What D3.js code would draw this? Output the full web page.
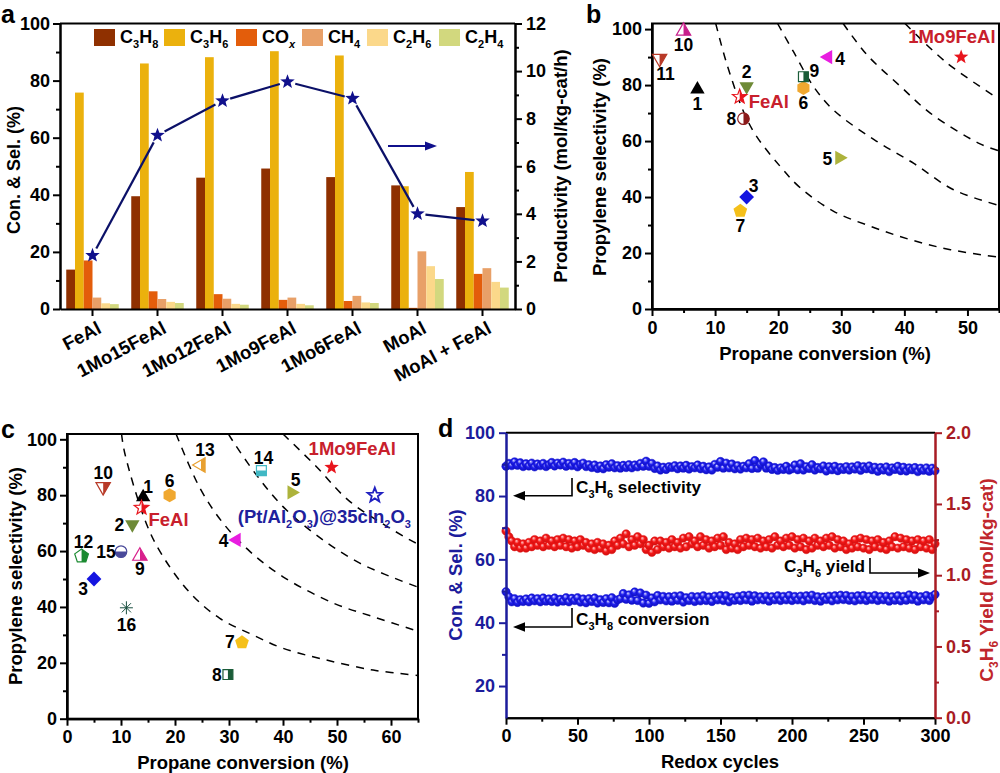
<!DOCTYPE html>
<html>
<head>
<meta charset="utf-8">
<script src="https://cdn.jsdelivr.net/npm/d3@7"></script>
<style>
body { margin: 0; background: #fff; }
text { font-family: "Liberation Sans", Arial, sans-serif; font-weight: bold; }
</style>
</head>
<body>
<div id="chart"></div>
<script>
// panel a
var catalysts = ['FeAl', '1Mo15FeAl', '1Mo12FeAl', '1Mo9FeAl', '1Mo6FeAl', 'MoAl', 'MoAl + FeAl'];
var gas_names = ['C_3H_8', 'C_3H_6', 'CO_x', 'CH_4', 'C_2H_6', 'C_2H_4'];
var gas_colors = ['#8f3000', '#ebb10d', '#e35d0b', '#e8a068', '#fbd88a', '#d2d87e'];
var c3h8_values = [13.8, 39.5, 46, 49.2, 46.2, 43.3, 35.7];
var c3h6_values = [75.8, 86, 88.2, 90.3, 88.8, 43, 48];
var cox_values = [17, 6.2, 5.2, 3.2, 2.8, 0.4, 12.3];
var ch4_values = [4, 3.5, 3.6, 4, 4.6, 20.2, 14.3];
var c2h6_values = [2, 2.5, 1.8, 1.8, 2.3, 15, 9.5];
var c2h4_values = [1.7, 2.1, 1.5, 1.3, 2.1, 10.5, 7.5];
var productivity = [2.25, 7.3, 8.75, 9.55, 8.85, 4.0, 3.7];

// panel b
var b_ids = ['1', '2', '3', '4', '5', '6', '7', '8', '9', '10', '11'];
var b_conv = [7.2, 15, 15, 27.9, 29.7, 24, 14, 14.5, 24, 5, 1.2];
var b_sel = [78.5, 79.5, 40, 90, 54, 79, 35, 68, 83, 99.3, 89.5];
var b_shapes = ['up', 'down', 'diamond', 'left', 'right', 'hexagon', 'pentagon', 'circle', 'square', 'up', 'down'];
var b_fills = ['full', 'full', 'full', 'full', 'full', 'full', 'full', 'right', 'right', 'right', 'right'];
var b_colors = ['#000000', '#6e8a36', '#1414e0', '#e81ee0', '#adb33c', '#f0a830', '#f5c01a', '#8b1a1a', '#1a5c38', '#c8208c', '#b83a28'];
var b_label_dx = [0, 0, 7, 12, -12, 0, 0, -12, 11, 0, 6];
var b_label_dy = [15, -14, -11, 2, 1, 15, 15, 0, -6, 14, 16];
var b_curve_conv = [
    [10.1, 11.8, 14.6, 16.6, 20.3, 23.5, 28.8, 34.7, 40.9, 47.3, 55],
    [19.9, 22.4, 25.6, 28.8, 35.2, 41.5, 47.8, 55],
    [30.3, 34, 39.4, 44.1, 52, 55],
    [40.1, 46.7, 55]
];
var b_curve_sel = [
    [102, 88, 70, 61.6, 51, 43.3, 34.9, 29.5, 24.8, 21.2, 18.5],
    [102, 92, 79.5, 71, 60.5, 52, 42.6, 37],
    [102, 91, 79.5, 70, 59, 56.5],
    [102, 88, 75]
];

// panel c
var c_ids = ['1', '2', '3', '4', '5', '6', '7', '8', '9', '10', '12', '13', '14', '15', '16'];
var c_conv = [14.1, 12.1, 5, 31.4, 41.6, 19, 32.4, 29.8, 13.5, 6.7, 2.7, 24.8, 36, 10, 11];
var c_sel = [79.3, 69.5, 50, 64, 81, 80, 27.3, 15.8, 58.2, 83, 58.2, 90.8, 88.8, 59.8, 39.7];
var c_shapes = ['up', 'down', 'diamond', 'left', 'right', 'hexagon', 'pentagon', 'square', 'up', 'down', 'pentagon', 'left', 'square', 'circle', 'asterisk'];
var c_fills = ['full', 'full', 'full', 'full', 'full', 'full', 'full', 'right', 'right', 'right', 'right', 'right', 'bottom', 'bottom', 'full'];
var c_colors = ['#000000', '#6e8a36', '#1414e0', '#e81ee0', '#adb33c', '#f0a830', '#f5c01a', '#1a5c38', '#d8208c', '#b83a28', '#1a8a30', '#e8a030', '#40b8c4', '#4a4a9a', '#1a5040'];
var c_label_dx = [5, -13, -11, -13, 4, 0, -12, -11, 0, 0, 2, 4, 2, -15, 0];
var c_label_dy = [-10, 0, 10, 1, -12, -14, 0, 0, 13, -14, -14, -15, -13, 0, 17];
var c_curve_conv = [
    [10.1, 10.7, 14.8, 17.8, 22.8, 28.3, 34.4, 40, 47.4, 56.7, 65],
    [20.2, 24.6, 28.9, 33.9, 40, 49.3, 56.7, 65],
    [29.9, 30.8, 35.1, 40, 46.2, 54.3, 65],
    [40, 46.2, 52.4, 63.5, 65]
];
var c_curve_sel = [
    [101.9, 95, 69.3, 58, 45, 35.9, 30, 25.2, 21.3, 17.4, 15.5],
    [101.9, 82.6, 70, 59.8, 50.8, 41.4, 36.5, 31.3],
    [101.9, 99.1, 87.2, 75.9, 65.7, 55.6, 47.1],
    [101.9, 90.2, 77.7, 64, 62.5]
];

// panel d, one reading every second cycle, ten per row
var d_selectivity = [
    89.4, 90.3, 89.6, 90.8, 89.7, 90.5, 89.3, 90.2, 89.5, 90.4,
    89.2, 90.1, 89.6, 90.3, 89.3, 89.9, 90.6, 89.5, 90.4, 89.8,
    90.7, 89.4, 90.3, 89.6, 90.6, 89.2, 90.0, 90.4, 89.3, 89.9,
    89.0, 89.8, 88.7, 89.5, 88.6, 89.9, 89.1, 90.2, 88.9, 89.6,
    88.8, 89.7, 89.0, 89.9, 88.9, 89.8, 89.2, 90.3, 89.4, 91.0,
    89.4, 90.3, 88.7, 89.5, 88.2, 89.1, 88.4, 89.3, 89.0, 89.6,
    88.6, 89.5, 88.8, 89.7, 88.5, 89.3, 88.9, 89.8, 88.6, 89.4,
    88.3, 89.2, 88.2, 90.0, 89.1, 90.9, 88.8, 90.4, 88.9, 90.1,
    88.6, 89.6, 88.5, 89.4, 88.9, 90.2, 88.7, 91.2, 88.8, 90.0,
    90.8, 88.8, 89.5, 88.4, 89.0, 88.1, 88.9, 88.4, 89.4, 88.2,
    88.6, 89.8, 88.3, 90.2, 88.2, 89.3, 88.7, 89.9, 88.2, 89.0,
    88.6, 89.5, 87.9, 89.3, 88.3, 89.4, 88.0, 89.0, 88.4, 89.3,
    88.2, 89.2, 88.5, 89.6, 88.1, 89.3, 88.6, 89.5, 88.3, 89.1,
    87.8, 89.0, 88.2, 89.2, 87.7, 88.9, 88.4, 89.4, 88.0, 89.1,
    87.9, 88.9, 88.3, 89.0, 87.7, 88.8, 88.1, 88.9, 87.8, 88.8,
    88.0
];
var d_yield = [
    1.31, 1.27, 1.24, 1.20, 1.23, 1.19, 1.22, 1.19, 1.23, 1.20,
    1.25, 1.21, 1.24, 1.20, 1.26, 1.21, 1.24, 1.20, 1.25, 1.21,
    1.26, 1.20, 1.25, 1.19, 1.24, 1.20, 1.25, 1.21, 1.23, 1.19,
    1.22, 1.18, 1.23, 1.19, 1.22, 1.17, 1.21, 1.18, 1.24, 1.21,
    1.26, 1.22, 1.29, 1.20, 1.25, 1.21, 1.27, 1.22, 1.25, 1.18,
    1.21, 1.16, 1.24, 1.18, 1.24, 1.20, 1.23, 1.19, 1.25, 1.20,
    1.23, 1.19, 1.26, 1.20, 1.27, 1.22, 1.24, 1.20, 1.27, 1.21,
    1.25, 1.19, 1.24, 1.20, 1.26, 1.21, 1.27, 1.18, 1.23, 1.19,
    1.22, 1.18, 1.25, 1.20, 1.26, 1.21, 1.25, 1.20, 1.26, 1.19,
    1.24, 1.20, 1.25, 1.19, 1.27, 1.21, 1.24, 1.20, 1.26, 1.21,
    1.27, 1.19, 1.25, 1.20, 1.26, 1.18, 1.24, 1.19, 1.26, 1.21,
    1.24, 1.20, 1.26, 1.21, 1.27, 1.19, 1.25, 1.20, 1.24, 1.18,
    1.22, 1.19, 1.25, 1.20, 1.26, 1.19, 1.25, 1.18, 1.24, 1.20,
    1.25, 1.19, 1.23, 1.18, 1.24, 1.20, 1.27, 1.19, 1.26, 1.20,
    1.25, 1.19, 1.24, 1.18, 1.25, 1.20, 1.24, 1.19, 1.25, 1.18,
    1.22
];
var d_conversion = [
    49.8, 48.2, 46.6, 47.6, 46.4, 47.3, 46.7, 47.5, 46.6, 47.8,
    46.9, 47.6, 46.6, 47.8, 46.8, 47.5, 46.7, 47.8, 46.5, 47.4,
    46.8, 47.9, 46.6, 47.7, 47.0, 47.9, 46.5, 47.5, 46.3, 47.6,
    46.7, 47.8, 46.2, 47.3, 46.4, 47.6, 46.3, 47.9, 46.1, 47.2,
    47.6, 49.2, 47.4, 48.8, 47.1, 49.7, 47.0, 49.4, 46.2, 48.7,
    46.1, 47.8, 46.6, 48.6, 47.2, 48.3, 46.9, 48.2, 46.8, 48.4,
    47.1, 48.5, 46.5, 47.9, 47.0, 48.3, 46.7, 48.2, 46.9, 48.5,
    47.0, 48.1, 46.7, 48.4, 47.2, 48.6, 47.0, 48.5, 46.6, 47.9,
    47.1, 48.3, 47.0, 48.6, 47.2, 48.7, 46.8, 48.5, 47.2, 48.2,
    47.2, 48.4, 46.8, 48.2, 47.2, 48.5, 47.0, 48.3, 47.2, 48.6,
    47.0, 48.3, 47.2, 48.4, 46.9, 48.5, 47.3, 48.7, 47.0, 48.2,
    46.8, 48.1, 47.3, 48.4, 46.9, 48.5, 47.2, 48.7, 47.3, 48.6,
    47.1, 48.3, 46.9, 48.5, 47.2, 48.6, 47.0, 48.3, 47.3, 48.6,
    47.0, 48.3, 47.2, 48.4, 46.8, 48.2, 47.1, 48.5, 46.9, 48.3,
    47.1, 48.8, 47.3, 48.5, 46.8, 48.2, 47.2, 48.6, 47.0, 48.3,
    48.9
];

var svg = d3.select('#chart')
    .append('svg')
    .attr('width', 1000)
    .attr('height', 773);

var defs = svg.append('defs');
defs.append('clipPath').attr('id', 'half-right')
    .append('rect').attr('x', 0).attr('y', -12).attr('width', 12).attr('height', 24);
defs.append('clipPath').attr('id', 'half-bottom')
    .append('rect').attr('x', -12).attr('y', 0).attr('width', 24).attr('height', 12);

add_sphere_gradient('ball-blue', '#dcdcff', '#2020ee', '#0c0cb8');
add_sphere_gradient('ball-red', '#ffd0d0', '#f41818', '#c80e0e');

function add_sphere_gradient (id, light, mid, dark) {
    var g = defs.append('radialGradient')
        .attr('id', id)
        .attr('cx', '50%').attr('cy', '50%').attr('r', '55%')
        .attr('fx', '36%').attr('fy', '30%');
    g.append('stop').attr('offset', '0%').attr('stop-color', light);
    g.append('stop').attr('offset', '45%').attr('stop-color', mid);
    g.append('stop').attr('offset', '100%').attr('stop-color', dark);
}

// writes "C_3H_6 yield" as text with real subscripts
function rich_text (sel, str, size) {
    var parts = str.split(/_(.)/);
    var sub_size = Math.round(size * 0.62);
    var was_sub = false;
    parts.forEach(function (part, i) {
        if (part === '') { return; }
        var is_sub = i % 2 === 1;
        var t = sel.append('tspan').text(part);
        if (is_sub) {
            t.attr('dy', 5).attr('font-size', sub_size);
            if (part === 'x') { t.attr('font-style', 'italic'); }
        } else {
            t.attr('font-size', size);
            if (was_sub) { t.attr('dy', -5); }
        }
        was_sub = is_sub;
    });
}

function add_text (parent, str, x, y, size, color, anchor, rotate) {
    var t = parent.append('text')
        .attr('fill', color || '#000')
        .attr('text-anchor', anchor || 'start')
        .attr('transform', 'translate(' + x + ',' + y + ')' + (rotate ? ' rotate(' + rotate + ')' : ''));
    rich_text(t, str, size);
    return t;
}

function add_axis (axis_fn, scale, y_or_x, major, minor, opts) {
    var is_horizontal = opts.horizontal;
    var translate = is_horizontal ? 'translate(0,' + y_or_x + ')' : 'translate(' + y_or_x + ',0)';
    var color = opts.color || '#000';

    svg.append('g')
        .attr('transform', translate)
        .call(axis_fn(scale).tickValues(minor).tickSize(4).tickFormat('').tickSizeOuter(0))
        .call(style_axis, color);

    var major_axis = svg.append('g')
        .attr('transform', translate)
        .call(axis_fn(scale).tickValues(major).tickSize(7).tickPadding(opts.padding || 3).tickSizeOuter(0)
            .tickFormat(opts.format || function (d) { return d; }))
        .call(style_axis, color);

    major_axis.selectAll('text')
        .attr('font-size', 18)
        .attr('font-family', '"Liberation Sans", Arial, sans-serif')
        .attr('fill', color);
    return major_axis;
}

function style_axis (sel, color) {
    sel.selectAll('.domain').attr('stroke', color).attr('stroke-width', 2);
    sel.selectAll('.tick line').attr('stroke', color).attr('stroke-width', 2);
}

var radial_line = d3.lineRadial().curve(d3.curveLinearClosed);

function polygon_path (n, radius, rotation) {
    return radial_line(d3.range(n).map(function (i) {
        return [rotation + i * 2 * Math.PI / n, radius];
    }));
}

function star_path (outer, inner) {
    return radial_line(d3.range(10).map(function (i) {
        return [i * Math.PI / 5, i % 2 ? inner : outer];
    }));
}

function shape_path (name) {
    var deg = Math.PI / 180;
    if (name === 'up') { return polygon_path(3, 8.3, 0); }
    if (name === 'down') { return polygon_path(3, 8.3, 180 * deg); }
    if (name === 'left') { return polygon_path(3, 8.3, -90 * deg); }
    if (name === 'right') { return polygon_path(3, 8.3, 90 * deg); }
    if (name === 'diamond') { return polygon_path(4, 7.4, 0); }
    if (name === 'square') { return polygon_path(4, 7, 45 * deg); }
    if (name === 'pentagon') { return polygon_path(5, 7.2, 0); }
    if (name === 'hexagon') { return polygon_path(6, 7, 0); }
    if (name === 'circle') { return d3.symbol(d3.symbolCircle, 105)(); }
    if (name === 'star') { return star_path(7.6, 3.2); }
    return null;
}

function draw_marker (parent, x, y, shape, fill, color) {
    var g = parent.append('g').attr('transform', 'translate(' + x + ',' + y + ')');
    if (shape === 'asterisk') {
        d3.range(4).forEach(function (i) {
            var a = i * Math.PI / 4;
            g.append('line')
                .attr('x1', -6.5 * Math.sin(a)).attr('y1', -6.5 * Math.cos(a))
                .attr('x2', 6.5 * Math.sin(a)).attr('y2', 6.5 * Math.cos(a))
                .attr('stroke', color).attr('stroke-width', 1);
        });
        return;
    }
    var d = shape_path(shape);
    if (fill === 'full') {
        g.append('path').attr('d', d).attr('fill', color);
        return;
    }
    g.append('path').attr('d', d).attr('fill', '#fff')
        .attr('stroke', color).attr('stroke-width', fill === 'open' ? 1.8 : 1.2);
    if (fill === 'right' || fill === 'bottom') {
        g.append('path').attr('d', d).attr('fill', color)
            .attr('clip-path', 'url(#half-' + fill + ')');
    }
}

function draw_panel_letters () {
    add_text(svg, 'a', 1, 22.7, 25);
    add_text(svg, 'b', 586, 22.7, 25);
    add_text(svg, 'c', 1, 438, 25);
    add_text(svg, 'd', 438, 437, 25);
}

function draw_panel_a () {
    var x = d3.scaleBand().domain(catalysts).range([60, 515]);
    var y = d3.scaleLinear().domain([0, 100]).range([309, 23.5]);
    var y_right = d3.scaleLinear().domain([0, 12]).range([309, 23.5]);
    var all_gases = [c3h8_values, c3h6_values, cox_values, ch4_values, c2h6_values, c2h4_values];
    var group_half = 26.25;
    var inner = d3.scaleBand().domain(d3.range(6)).range([-group_half, group_half]);

    var center = function (name) { return x(name) + x.bandwidth() / 2; };

    var groups = svg.append('g').selectAll('g')
        .data(all_gases)
        .enter()
        .append('g')
        .attr('fill', function (d, i) { return gas_colors[i]; });

    groups.selectAll('rect')
        .data(function (d, i) {
            return d.map(function (v, j) { return { gas: i, cat: catalysts[j], value: v }; });
        })
        .enter()
        .append('rect')
        .attr('x', function (d) { return center(d.cat) + inner(d.gas); })
        .attr('y', function (d) { return y(d.value); })
        .attr('width', inner.bandwidth())
        .attr('height', function (d) { return y(0) - y(d.value); });

    // frame top
    svg.append('line').attr('x1', 60).attr('x2', 515).attr('y1', 23.5).attr('y2', 23.5)
        .attr('stroke', '#000').attr('stroke-width', 2);

    add_axis(d3.axisLeft, y, 60, [0, 20, 40, 60, 80, 100], [10, 30, 50, 70, 90], {});
    add_axis(d3.axisRight, y_right, 515, [0, 2, 4, 6, 8, 10, 12], [1, 3, 5, 7, 9, 11], { padding: 4 });

    svg.append('g')
        .attr('transform', 'translate(0,309)')
        .call(d3.axisBottom(x).tickSize(7).tickSizeOuter(0).tickFormat(''))
        .call(style_axis, '#000');

    catalysts.forEach(function (name) {
        add_text(svg, name, center(name) + 10, 332, 18.5, '#000', 'end', -28);
    });

    // productivity line stops short of the stars
    var points = catalysts.map(function (name, i) {
        return [center(name), y_right(productivity[i])];
    });
    var gap = 8;
    svg.append('g').selectAll('line')
        .data(d3.pairs(points))
        .enter()
        .append('line')
        .attr('x1', function (d) { return d[0][0] + trim(d)[0]; })
        .attr('y1', function (d) { return d[0][1] + trim(d)[1]; })
        .attr('x2', function (d) { return d[1][0] - trim(d)[0]; })
        .attr('y2', function (d) { return d[1][1] - trim(d)[1]; })
        .attr('stroke', '#0b1068')
        .attr('stroke-width', 2.2);

    function trim (d) {
        var dx = d[1][0] - d[0][0];
        var dy = d[1][1] - d[0][1];
        var len = Math.sqrt(dx * dx + dy * dy);
        return [dx / len * gap, dy / len * gap];
    }

    points.forEach(function (p) {
        draw_marker(svg, p[0], p[1], 'star', 'full', '#10108c');
    });

    // arrow pointing at the right axis
    svg.append('line').attr('x1', 388).attr('x2', 428).attr('y1', 146).attr('y2', 146)
        .attr('stroke', '#10108c').attr('stroke-width', 2);
    svg.append('path').attr('d', 'M425,141.5L437,146L425,150.5Z').attr('fill', '#10108c');

    // legend
    var legend_x = [94, 164, 236, 302, 367, 439];
    gas_names.forEach(function (name, i) {
        svg.append('rect')
            .attr('x', legend_x[i]).attr('y', 29)
            .attr('width', 21).attr('height', 17)
            .attr('fill', gas_colors[i]);
        add_text(svg, name, legend_x[i] + 26, 43, 18);
    });

    add_text(svg, 'Con. & Sel. (%)', 20, 170, 18, '#000', 'middle', -90);
    add_text(svg, 'Productivity (mol/kg-cat/h)', 567, 166, 18.5, '#000', 'middle', -90);
}

function draw_scatter (opts) {
    var x = opts.x;
    var y = opts.y;
    var x0 = x.range()[0], x1 = x.range()[1];
    var y0 = y.range()[0], y1 = y.range()[1];
    var clip_id = 'clip-' + opts.name;

    defs.append('clipPath').attr('id', clip_id)
        .append('rect').attr('x', x0).attr('y', y1)
        .attr('width', x1 - x0).attr('height', y0 - y1);

    var curve_line = d3.line()
        .x(function (d) { return x(d[0]); })
        .y(function (d) { return y(d[1]); })
        .curve(d3.curveCatmullRom);

    svg.append('g')
        .attr('clip-path', 'url(#' + clip_id + ')')
        .selectAll('path')
        .data(opts.curve_conv.map(function (c, i) { return d3.zip(c, opts.curve_sel[i]); }))
        .enter()
        .append('path')
        .attr('d', curve_line)
        .attr('fill', 'none')
        .attr('stroke', '#000')
        .attr('stroke-width', 1.5)
        .attr('stroke-dasharray', '8,7');

    svg.append('rect')
        .attr('x', x0).attr('y', y1)
        .attr('width', x1 - x0).attr('height', y0 - y1)
        .attr('fill', 'none')
        .attr('stroke', '#000')
        .attr('stroke-width', 2);

    add_axis(d3.axisLeft, y, x0, [0, 20, 40, 60, 80, 100], [10, 30, 50, 70, 90], {});
    add_axis(d3.axisBottom, x, y0, opts.x_major, opts.x_minor, { horizontal: true, padding: 5 });

    opts.ids.forEach(function (id, i) {
        var px = x(opts.conv[i]);
        var py = y(opts.sel[i]);
        draw_marker(svg, px, py, opts.shapes[i], opts.fills[i], opts.colors[i]);
        add_text(svg, id, px + opts.label_dx[i], py + opts.label_dy[i] + 6, 17.5, '#000', 'middle');
    });

    opts.named.forEach(function (n) {
        var px = x(n.conv);
        var py = y(n.sel);
        draw_marker(svg, px, py, 'star', n.fill, n.color);
        add_text(svg, n.label, px + n.dx, py + n.dy, 18.5, n.text_color);
    });
}

function draw_panel_b () {
    var x = d3.scaleLinear().domain([0, 55]).range([652, 999]);
    var y = d3.scaleLinear().domain([0, 102]).range([309, 23.5]);
    draw_scatter({
        name: 'b', x: x, y: y,
        x_major: [0, 10, 20, 30, 40, 50], x_minor: [5, 15, 25, 35, 45, 55],
        ids: b_ids, conv: b_conv, sel: b_sel, shapes: b_shapes, fills: b_fills, colors: b_colors,
        label_dx: b_label_dx, label_dy: b_label_dy,
        curve_conv: b_curve_conv, curve_sel: b_curve_sel,
        named: [
            { label: 'FeAl', conv: 13.9, sel: 75.8, fill: 'right', color: '#e8141c', text_color: '#c8202c', dx: 9, dy: 11 },
            { label: '1Mo9FeAl', conv: 49, sel: 90, fill: 'full', color: '#e8141c', text_color: '#c8202c', dx: -53, dy: -14 }
        ]
    });
    add_text(svg, 'Propylene selectivity (%)', 606, 167, 18.5, '#000', 'middle', -90);
    add_text(svg, 'Propane conversion (%)', 825, 360, 18.5, '#000', 'middle');
}

function draw_panel_c () {
    var x = d3.scaleLinear().domain([0, 65]).range([67, 418]);
    var y = d3.scaleLinear().domain([0, 101.9]).range([718.7, 434]);
    draw_scatter({
        name: 'c', x: x, y: y,
        x_major: [0, 10, 20, 30, 40, 50, 60], x_minor: [5, 15, 25, 35, 45, 55, 65],
        ids: c_ids, conv: c_conv, sel: c_sel, shapes: c_shapes, fills: c_fills, colors: c_colors,
        label_dx: c_label_dx, label_dy: c_label_dy,
        curve_conv: c_curve_conv, curve_sel: c_curve_sel,
        named: [
            { label: 'FeAl', conv: 13.8, sel: 75.5, fill: 'right', color: '#e8141c', text_color: '#c8202c', dx: 7, dy: 18 },
            { label: '1Mo9FeAl', conv: 49, sel: 90, fill: 'full', color: '#e8141c', text_color: '#c8202c', dx: -23, dy: -12 },
            { label: '(Pt/Al_2O_3)@35cIn_2O_3', conv: 57, sel: 80, fill: 'open', color: '#2020c0', text_color: '#20209c', dx: -137, dy: 28 }
        ]
    });
    add_text(svg, 'Propylene selectivity (%)', 22, 576, 18.5, '#000', 'middle', -90);
    add_text(svg, 'Propane conversion (%)', 243, 769, 18.5, '#000', 'middle');
}

function draw_bracket (points, color) {
    svg.append('path')
        .attr('d', d3.line()(points))
        .attr('fill', 'none')
        .attr('stroke', color)
        .attr('stroke-width', 1.6);
}

function draw_panel_d () {
    var cycles = d3.range(0, 301, 2);
    var x = d3.scaleLinear().domain([0, 300]).range([506, 935]);
    var y = d3.scaleLinear().domain([10, 100]).range([717.7, 432.7]);
    var y_right = d3.scaleLinear().domain([0, 2]).range([717.7, 432.7]);
    var blue = '#1c1c9c';
    var red = '#a81c24';

    var series = [
        { values: d_selectivity, scale: y, fill: 'url(#ball-blue)', stroke: '#1414d8' },
        { values: d_conversion, scale: y, fill: 'url(#ball-blue)', stroke: '#1414d8' },
        { values: d_yield, scale: y_right, fill: 'url(#ball-red)', stroke: '#e81212' }
    ];

    series.forEach(function (s) {
        svg.append('g').selectAll('circle')
            .data(s.values)
            .enter()
            .append('circle')
            .attr('cx', function (d, i) { return x(cycles[i]); })
            .attr('cy', function (d) { return s.scale(d); })
            .attr('r', 4.2)
            .attr('fill', s.fill)
            .attr('stroke', s.stroke)
            .attr('stroke-width', 0.5);
    });

    svg.append('line').attr('x1', 506).attr('x2', 935).attr('y1', 432.7).attr('y2', 432.7)
        .attr('stroke', '#000').attr('stroke-width', 2);

    add_axis(d3.axisBottom, x, 717.7, [0, 50, 100, 150, 200, 250, 300], [25, 75, 125, 175, 225, 275], { horizontal: true, padding: 5 });
    add_axis(d3.axisLeft, y, 506, [20, 40, 60, 80, 100], [30, 50, 70, 90], { color: blue, padding: 4 });
    add_axis(d3.axisRight, y_right, 935, [0, 0.5, 1, 1.5, 2], [0.25, 0.75, 1.25, 1.75], {
        color: red,
        padding: 4,
        format: d3.format('.1f')
    });

    // guide labels with bracket arrows
    draw_bracket([[572, 478], [572, 495.7], [522, 495.7]], '#000');
    svg.append('path').attr('d', 'M513,495.7L525,491L525,500.4Z').attr('fill', '#000');
    add_text(svg, 'C_3H_6 selectivity', 576, 493, 17.2);

    draw_bracket([[572, 608], [572, 627], [522, 627]], '#000');
    svg.append('path').attr('d', 'M513,627L525,622.3L525,631.7Z').attr('fill', '#000');
    add_text(svg, 'C_3H_8 conversion', 576, 625, 17.2);

    draw_bracket([[870, 558], [870, 573], [921, 573]], '#000');
    svg.append('path').attr('d', 'M930,573L918,568.3L918,577.7Z').attr('fill', '#000');
    add_text(svg, 'C_3H_6 yield', 865, 572, 17.2, '#000', 'end');

    add_text(svg, 'Con. & Sel. (%)', 462, 575, 18.5, blue, 'middle', -90);
    add_text(svg, 'C_3H_6 Yield (mol/kg-cat)', 993, 580, 19, '#c0262c', 'middle', -90);
    add_text(svg, 'Redox cycles', 720, 768, 18.5, '#000', 'middle');
}

draw_panel_a();
draw_panel_b();
draw_panel_c();
draw_panel_d();
draw_panel_letters();
</script>
</body>
</html>
